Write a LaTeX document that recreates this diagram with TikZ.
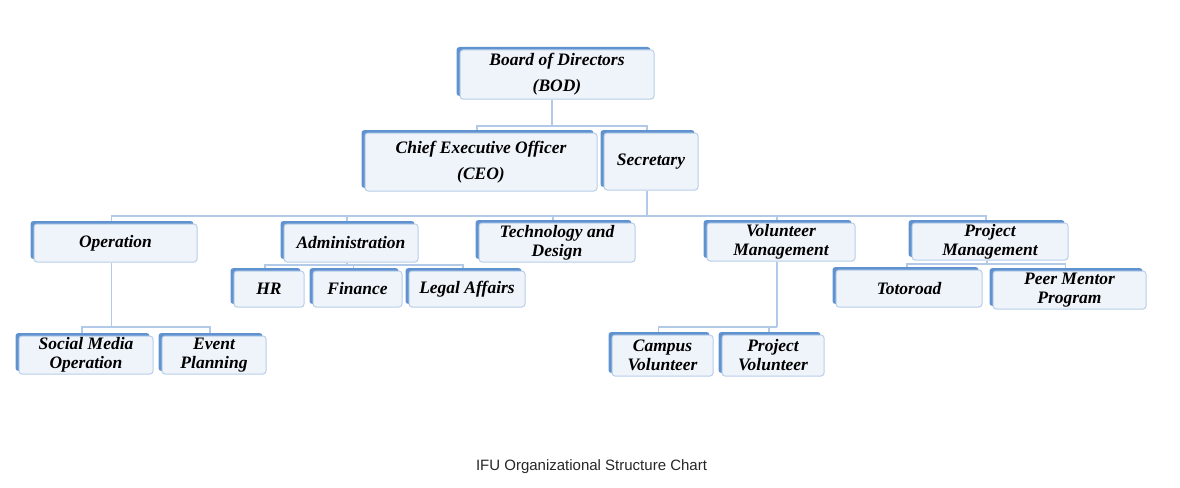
\documentclass[tikz,border=0pt]{standalone}
\usepackage{fontspec}
\setmainfont{Liberation Serif}
\setsansfont{Liberation Sans}
\usetikzlibrary{shapes,shadows,backgrounds}
\definecolor{shadeblue}{RGB}{96,146,208}
\definecolor{edgeblue}{RGB}{184,206,233}
\definecolor{boxfill}{RGB}{239,244,251}
\definecolor{linkblue}{RGB}{178,202,232}
\tikzstyle{unit} = [rectangle, rounded corners=3pt, draw=edgeblue, line width=1pt, fill=boxfill, inner sep=0pt, align=center, text centered, font=\fontsize{17.5}{19}\selectfont\bfseries\itshape, drop shadow={shadow xshift=-3.5pt, shadow yshift=3pt, fill=shadeblue, opacity=1}]
\tikzstyle{head} = [unit, font=\fontsize{17.5}{26}\selectfont\bfseries\itshape]
\tikzstyle{link} = [draw=linkblue, line width=1.4pt]
\tikzstyle{caption} = [font=\fontsize{15}{18}\selectfont\sffamily, text=black!85]

\begin{document}
\begin{tikzpicture}[x=1pt, y=-1pt]
    \useasboundingbox (0,0) rectangle (1180,487);
    % Place nodes
    \node [head, minimum width=194pt, minimum height=49pt] (bod) at (557,74.5) {Board of Directors\\(BOD)};
    \node [head, minimum width=232pt, minimum height=58pt] (ceo) at (481,162) {Chief Executive Officer\\(CEO)};
    \node [head, minimum width=94pt, minimum height=57pt] (sec) at (651,161.5) {Secretary};

    \node [unit, minimum width=163pt, minimum height=38pt] (ops) at (115.5,243) {Operation};
    \node [unit, minimum width=134pt, minimum height=38pt] (adm) at (351,243) {Administration};
    \node [unit, minimum width=156pt, minimum height=39pt] (tech) at (557,242.5) {Technology and\\Design};
    \node [unit, minimum width=148pt, minimum height=38pt] (vol) at (781,242) {Volunteer\\Management};
    \node [unit, minimum width=156pt, minimum height=37pt] (prj) at (990,241.5) {Project\\Management};

    \node [unit, minimum width=70pt, minimum height=36pt] (hr) at (269,289) {HR};
    \node [unit, minimum width=89pt, minimum height=36pt] (fin) at (357.5,289) {Finance};
    \node [unit, minimum width=116pt, minimum height=36pt] (legal) at (467,289) {Legal Affairs};
    \node [unit, minimum width=146pt, minimum height=37pt] (toto) at (909,288.5) {Totoroad};
    \node [unit, minimum width=153pt, minimum height=38pt] (peer) at (1069.5,290) {Peer Mentor\\Program};

    \node [unit, minimum width=134pt, minimum height=38pt] (smo) at (86,355) {Social Media\\Operation};
    \node [unit, minimum width=104pt, minimum height=38pt] (evt) at (214,355) {Event\\Planning};
    \node [unit, minimum width=101pt, minimum height=41pt] (camp) at (662.5,355.5) {Campus\\Volunteer};
    \node [unit, minimum width=102pt, minimum height=41pt] (pvol) at (773,355.5) {Project\\Volunteer};

    \node [caption] (title) at (591.5,467) {IFU Organizational Structure Chart};

    \begin{scope}[on background layer]
    \coordinate (busA) at ([xshift=-5pt]bod.south |- 0,126);
    \coordinate (busB) at ([xshift=-4pt]sec.south |- 0,216);
    \coordinate (busC) at ([xshift=-4pt]adm.south |- 0,265);
    \coordinate (busD) at ([xshift=-3pt]prj.south |- 0,264);
    \coordinate (busE) at ([xshift=-4pt]ops.south |- 0,327);
    \coordinate (busF) at ([xshift=-4pt]vol.south |- 0,327);

    \draw [link] ([xshift=-5pt]bod.south) -- (busA);
    \draw [link] ([xshift=-4pt]ceo.north) |- (busA) -| ([xshift=-4pt]sec.north);

    \draw [link] ([xshift=-4pt]sec.south) -- (busB);
    \draw [link] ([xshift=-4pt]ops.north) |- (busB) -| ([xshift=-4pt]prj.north);
    \foreach \n in {adm,tech,vol}
        \draw [link] ([xshift=-4pt]\n.north) -- ([xshift=-4pt]\n.north |- busB);

    \draw [link] ([xshift=-4pt]adm.south) -- (busC);
    \draw [link] ([xshift=-4pt]hr.north) |- (busC) -| ([xshift=-4pt]legal.north);
    \draw [link] ([xshift=-4pt]fin.north) -- ([xshift=-4pt]fin.north |- busC);

    \draw [link] ([xshift=-3pt]prj.south) -- (busD);
    \draw [link] ([xshift=-2pt]toto.north) |- (busD) -| ([xshift=-4pt]peer.north);

    \draw [link] ([xshift=-4pt]ops.south) -- (busE);
    \draw [link] ([xshift=-4pt]smo.north) |- (busE) -| ([xshift=-4pt]evt.north);

    \draw [link] ([xshift=-4pt]vol.south) -- (busF);
    \draw [link] ([xshift=-4pt]camp.north) |- (busF) -| ([xshift=-4pt]pvol.north);
    \end{scope}
\end{tikzpicture}
\end{document}
